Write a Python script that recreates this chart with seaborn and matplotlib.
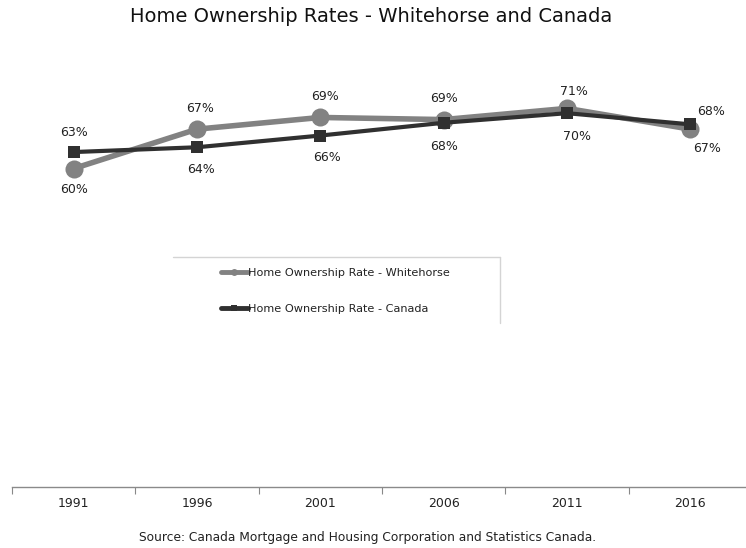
import matplotlib
matplotlib.use("Agg")
import matplotlib.pyplot as plt
from matplotlib.lines import Line2D
import numpy as np
import pandas as pd
import seaborn as sns

# Census years and home ownership rates (%)
years = ["1991", "1996", "2001", "2006", "2011", "2016"]
whitehorse = [59.8, 67.2, 69.4, 69.0, 71.1, 67.2]
canada = [62.9, 63.8, 66.0, 68.4, 70.2, 68.1]

series_names = ["Home Ownership Rate - Whitehorse", "Home Ownership Rate - Canada"]

# Label offsets (points) for each data label
wh_offsets = [(0, -15), (2, 15), (3, 15), (0, 15), (5, 12), (12, -14)]
ca_offsets = [(0, 14), (3, -16), (5, -16), (0, -17), (7, -17), (15, 9)]

sns.set_theme(style="white")
plt.rcParams["font.family"] = ["DejaVu Sans"]

fig = plt.figure(figsize=(7.46, 5.48), dpi=100)
W, H = 746, 548
ax = fig.add_axes([12 / W, (H - 487) / H, 740 / W, 426 / H])

pos = np.arange(len(years))
df = pd.DataFrame({"pos": np.concatenate([pos, pos]),
                   "rate": whitehorse + canada,
                   "series": [series_names[0]] * len(years) + [series_names[1]] * len(years)})

wh_color = "#828282"
ca_color = "#303030"

sns.lineplot(data=df[df.series == series_names[0]], x="pos", y="rate", ax=ax,
             color=wh_color, linewidth=4, marker="o", markersize=13,
             markeredgewidth=0, label=series_names[0], zorder=2)
sns.lineplot(data=df[df.series == series_names[1]], x="pos", y="rate", ax=ax,
             color=ca_color, linewidth=3, marker="s", markersize=8.5,
             markeredgewidth=0, label=series_names[1], zorder=3)

for x, v, off in zip(pos, whitehorse, wh_offsets):
    ax.annotate(f"{v:.0f}%", (x, v), xytext=off, textcoords="offset points",
                ha="center", va="center", fontsize=9, color="#222222")
for x, v, off in zip(pos, canada, ca_offsets):
    ax.annotate(f"{v:.0f}%", (x, v), xytext=off, textcoords="offset points",
                ha="center", va="center", fontsize=9, color="#222222")

ax.set_xlim(-0.5, len(years) - 0.5)
ax.set_ylim(0, 80)
ax.set_xlabel("")
ax.set_ylabel("")
ax.set_yticks([])
ax.set_xticks(pos)
ax.set_xticklabels(years, fontsize=9, color="#222222")
ax.set_xticks(np.arange(-0.5, len(years)), minor=True)
ax.tick_params(axis="x", which="major", length=0, pad=7)
ax.tick_params(axis="x", which="minor", length=5, width=0.8, color="#888888", bottom=True)
for s in ["top", "left", "right"]:
    ax.spines[s].set_visible(False)
ax.spines["bottom"].set_color("#8a8a8a")
ax.spines["bottom"].set_linewidth(1.0)

# Legend
handles = [Line2D([], [], color=wh_color, linewidth=3.5, marker="o", markersize=5, markeredgewidth=0),
           Line2D([], [], color=ca_color, linewidth=3.5, marker="s", markersize=5, markeredgewidth=0)]
ax.legend_.remove()
fig.legend(handles, series_names, loc="upper left", frameon=False, fontsize=8.1,
           bbox_to_anchor=(215 / W, 1 - 262 / H), bbox_transform=fig.transFigure,
           borderpad=0, handlelength=2.4, handletextpad=0.05, labelspacing=2.3,
           labelcolor="#222222")
fig.add_artist(Line2D([173 / W, 500 / W], [1 - 257 / H, 1 - 257 / H],
                      transform=fig.transFigure, color="#d4d4d4", linewidth=1))
fig.add_artist(Line2D([500 / W, 500 / W], [1 - 257 / H, 1 - 323 / H],
                      transform=fig.transFigure, color="#d4d4d4", linewidth=1))

fig.text(371 / W, 1 - 17 / H, "Home Ownership Rates - Whitehorse and Canada",
         ha="center", va="center", fontsize=14, color="#111111")
fig.text(368 / W, 1 - 537 / H,
         "Source: Canada Mortgage and Housing Corporation and Statistics Canada.",
         ha="center", va="center", fontsize=8.8, color="#222222")

fig.savefig("out.png", dpi=100)
